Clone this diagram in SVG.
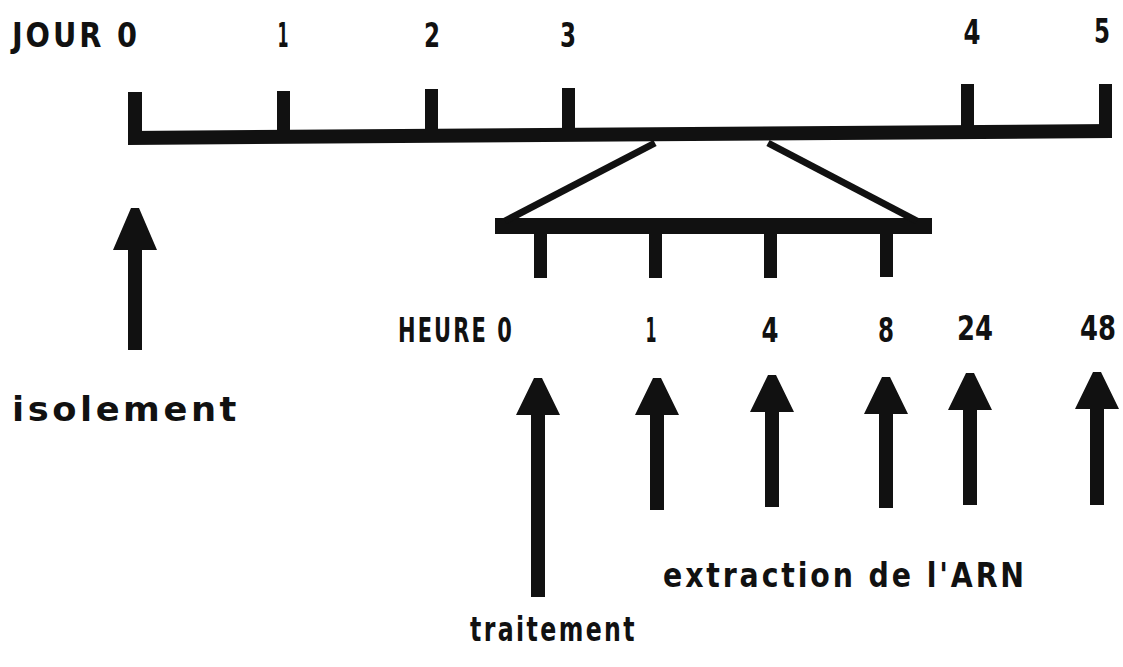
<svg xmlns="http://www.w3.org/2000/svg" width="1123" height="667" viewBox="0 0 1123 667">
<style>
  text { font-family: "DejaVu Sans Condensed", "DejaVu Sans", "Liberation Sans", sans-serif; font-weight: bold; fill: #111; }
  .lbl { font-size: 33px; letter-spacing: 3px; }
  .num { font-size: 33px; text-anchor: middle; }
  .bar { fill: #111; }
  .arrow { fill: #111; }
  .diag { stroke: #111; stroke-width: 7; fill: none; }
</style>
<rect width="1123" height="667" fill="#fff"/>
<g id="day-scale">
  <polygon class="bar" points="128,131 1112,124 1112,138 128,145"/>
  <rect class="bar" x="128" y="92" width="14" height="50"/>
  <rect class="bar" x="277" y="91" width="13" height="50"/>
  <rect class="bar" x="425" y="89" width="13" height="50"/>
  <rect class="bar" x="562" y="88" width="13" height="50"/>
  <rect class="bar" x="961" y="84" width="13" height="50"/>
  <rect class="bar" x="1099" y="84" width="13" height="50"/>
  <text class="lbl" x="12" y="47" textLength="128" lengthAdjust="spacingAndGlyphs">JOUR 0</text>
  <text class="num" x="283" y="47" textLength="11" lengthAdjust="spacingAndGlyphs">1</text>
  <text class="num" x="432" y="47" textLength="16" lengthAdjust="spacingAndGlyphs">2</text>
  <text class="num" x="568" y="47" textLength="16" lengthAdjust="spacingAndGlyphs">3</text>
  <text class="num" x="972" y="44" textLength="17" lengthAdjust="spacingAndGlyphs">4</text>
  <text class="num" x="1102" y="43" textLength="16" lengthAdjust="spacingAndGlyphs">5</text>
</g>
<g id="hour-scale">
  <rect class="bar" x="495" y="218" width="437" height="16"/>
  <rect class="bar" x="534" y="230" width="13" height="48"/>
  <rect class="bar" x="649" y="230" width="13" height="48"/>
  <rect class="bar" x="764" y="230" width="13" height="48"/>
  <rect class="bar" x="880" y="230" width="13" height="47"/>
  <text class="lbl" x="398" y="342" textLength="116" lengthAdjust="spacingAndGlyphs">HEURE 0</text>
  <text class="num" x="651" y="342" textLength="11" lengthAdjust="spacingAndGlyphs">1</text>
  <text class="num" x="770" y="342" textLength="17" lengthAdjust="spacingAndGlyphs">4</text>
  <text class="num" x="886" y="342" textLength="16" lengthAdjust="spacingAndGlyphs">8</text>
  <text class="num" x="975" y="340" textLength="36" lengthAdjust="spacingAndGlyphs">24</text>
  <text class="num" x="1098" y="340" textLength="36" lengthAdjust="spacingAndGlyphs">48</text>
</g>
<g id="connectors">
  <line class="diag" x1="655" y1="143" x2="505" y2="221"/>
  <line class="diag" x1="768" y1="143" x2="917" y2="221"/>
</g>
<g id="arrow-isolement">
  <polygon class="arrow" points="131,208 139,208 157,250 142,250 142,350 128,350 128,250 113,250"/>
  <text class="lbl" x="12" y="421" textLength="228" lengthAdjust="spacingAndGlyphs">isolement</text>
</g>
<g id="arrow-traitement">
  <polygon class="arrow" points="534,378 542,378 560,415 545,415 545,597 531,597 531,415 516,415"/>
  <text class="lbl" x="470" y="641" textLength="167" lengthAdjust="spacingAndGlyphs">traitement</text>
</g>
<g id="arrows-extraction">
  <polygon class="arrow" points="653,378 661,378 679,415 664,415 664,510 650,510 650,415 635,415"/>
  <polygon class="arrow" points="768,375 776,375 794,412 779,412 779,507 765,507 765,412 750,412"/>
  <polygon class="arrow" points="882,377 890,377 908,414 893,414 893,508 879,508 879,414 864,414"/>
  <polygon class="arrow" points="966,373 974,373 992,410 977,410 977,505 963,505 963,410 948,410"/>
  <polygon class="arrow" points="1093,372 1101,372 1119,409 1104,409 1104,505 1090,505 1090,409 1075,409"/>
  <text class="lbl" x="663" y="587" textLength="364" lengthAdjust="spacingAndGlyphs">extraction de l'ARN</text>
</g>
</svg>
